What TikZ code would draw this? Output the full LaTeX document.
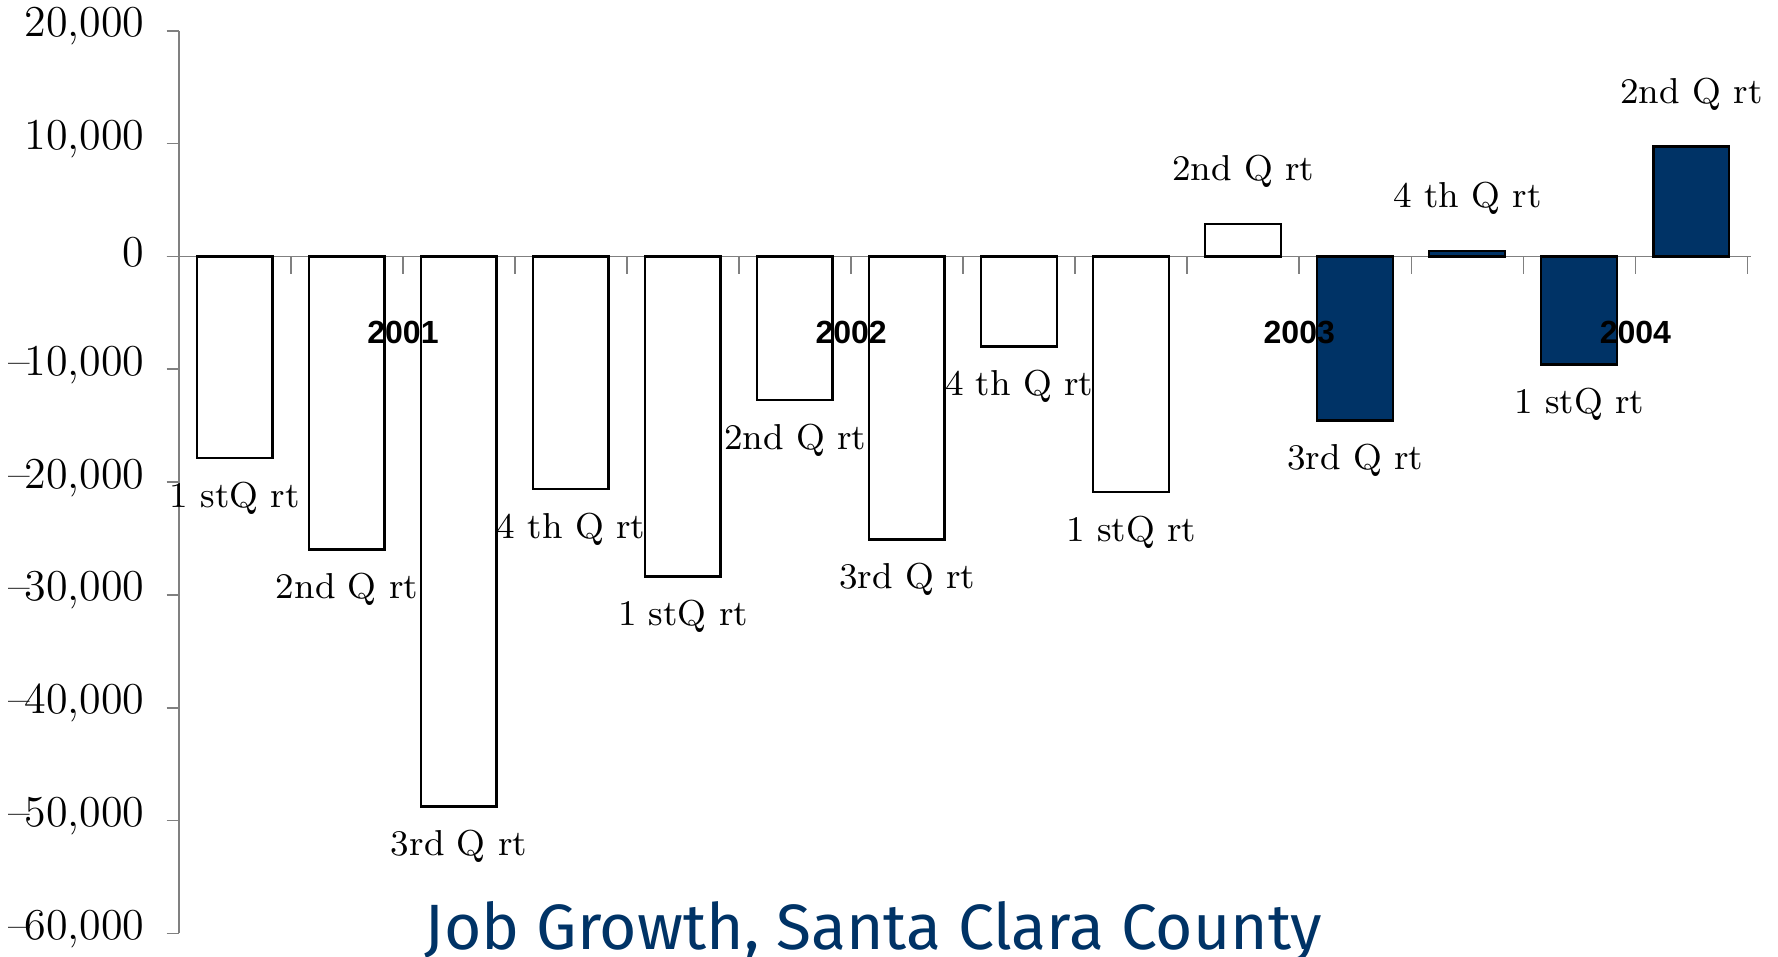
\documentclass[tikz,border=0pt]{standalone}
\usepackage{fontspec}
\usepackage{tikz}
\newfontfamily\yearfont{Liberation Sans}
\newfontfamily\titlefont{Fira Sans}
\definecolor{navy}{RGB}{0,51,102}
\definecolor{axisgray}{RGB}{128,128,128}
\tikzstyle{bar} = [draw=black, line width=0.6pt, fill=white]
\tikzstyle{darkbar} = [bar, fill=navy]
\tikzstyle{axis} = [draw=axisgray, line width=0.4pt]
\tikzstyle{qlabel} = [font=\fontsize{9}{11}\selectfont, inner sep=0pt]
\tikzstyle{ylabel} = [anchor=east, font=\fontsize{11}{13}\selectfont, inner sep=0pt]
\tikzstyle{year} = [font=\yearfont\bfseries\fontsize{8}{10}\selectfont, inner sep=0pt]
\newcommand{\minussign}{\textendash\kern-1.5pt}

\begin{document}
\begin{tikzpicture}[x=0.983cm, y=0.099cm]
\useasboundingbox (-1.597,-62.02) rectangle (14.273,22.73);
% axes and ticks
\draw [axis] (0,-60) -- (0,20);
\draw [axis] (-0.11,0) -- (14.03,0);
\foreach \v in {-60,-50,...,20}
  \draw [axis] (-0.11,\v) -- (0,\v);
\foreach \k in {0,...,14}
  \draw [axis] (\k,0) -- (\k,-1.57);
\foreach \v/\t in {20/{20,000}, 10/{10,000}, 0/0, -10/{\minussign10,000}, -20/{\minussign20,000},
                   -30/{\minussign30,000}, -40/{\minussign40,000}, -50/{\minussign50,000}, -60/{\minussign60,000}}
  \node [ylabel] (tick\v) at (-0.30,\v+0.4) {\t};
% bars, one per quarter
\foreach \k/\val/\q/\sty in {1/-17.85/{1 stQ rt}/bar, 2/-25.98/{2nd Q rt}/bar,
    3/-48.75/{3rd Q rt}/bar, 4/-20.63/{4 th Q rt}/bar, 5/-28.35/{1 stQ rt}/bar,
    6/-12.71/{2nd Q rt}/bar, 7/-25.09/{3rd Q rt}/bar, 8/-7.99/{4 th Q rt}/bar,
    9/-20.87/{1 stQ rt}/bar, 10/2.87/{2nd Q rt}/bar, 11/-14.53/{3rd Q rt}/darkbar,
    12/0.47/{4 th Q rt}/darkbar, 13/-9.59/{1 stQ rt}/darkbar, 14/9.76/{2nd Q rt}/darkbar}
{
  \pgfmathsetmacro\ly{\val<0 ? \val-3.54 : \val+4.65}
  \draw [\sty] (\k-0.84,0) rectangle (\k-0.165,\val);
  \node [qlabel] (q\k) at (\k-0.5,\ly) {\q};
}
% years
\foreach \x/\yr in {2/2001, 6/2002, 10/2003, 13/2004}
  \node [year] (year\yr) at (\x,-6.77) {\yr};
\node [font=\titlefont\fontsize{16}{20}\selectfont, text=navy, anchor=base] (title)
  at (6.2,-61.4) {Job Growth, Santa Clara County};
\end{tikzpicture}
\end{document}
